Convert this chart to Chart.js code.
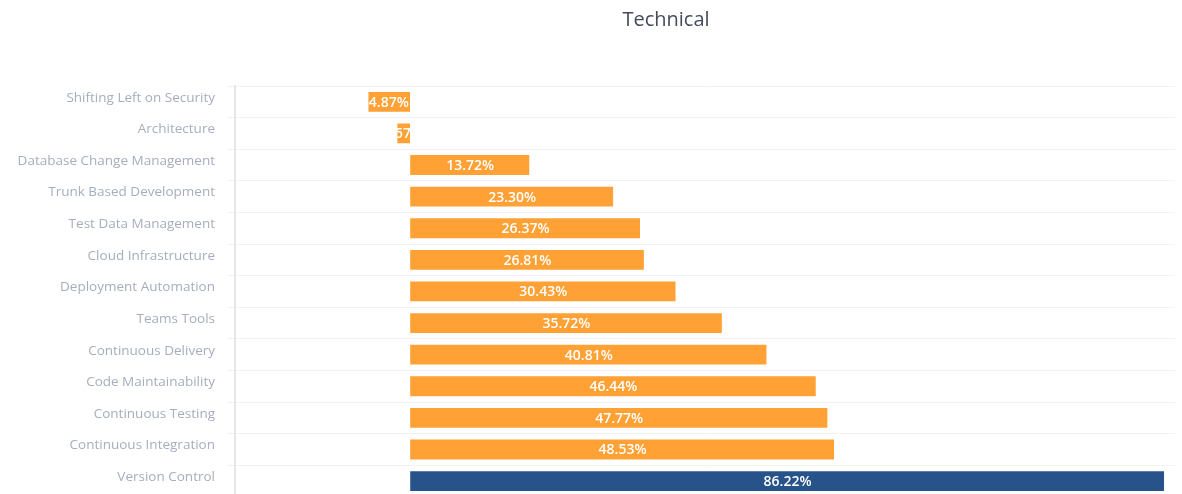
<!DOCTYPE html>
<html>
<head>
<meta charset="utf-8">
<script src="https://cdn.jsdelivr.net/npm/chart.js@4"></script>
<style>
  html, body { margin: 0; padding: 0; background: #fff; overflow: hidden; }
  #wrap { width: 1182px; height: 517px; position: relative; }
</style>
</head>
<body>
<div id="wrap"><canvas id="technicalChart"></canvas></div>
<script>
const chartTitle = 'Technical'
const categories = [
    'Shifting Left on Security', 'Architecture', 'Database Change Management',
    'Trunk Based Development', 'Test Data Management', 'Cloud Infrastructure',
    'Deployment Automation', 'Teams Tools', 'Continuous Delivery',
    'Code Maintainability', 'Continuous Testing', 'Continuous Integration',
    'Version Control'
]
// first two bars are drawn to the left of zero
const values = [-4.87, -1.57, 13.72, 23.30, 26.37, 26.81, 30.43, 35.72, 40.81, 46.44, 47.77, 48.53, 86.22]
const barColors = values.map((v, i) => i === values.length - 1 ? '#27538a' : '#ffa134')

// draws the % label in the middle of each bar, clipped to the bar
const barLabels = {
    id: 'barLabels',
    afterDatasetsDraw(chart) {
        let ctx = chart.ctx
        let meta = chart.getDatasetMeta(0)
        meta.data.forEach((bar, i) => {
            let left = Math.min(bar.x, bar.base)
            let w = Math.abs(bar.x - bar.base)
            let h = bar.height
            ctx.save()
            ctx.beginPath()
            ctx.rect(left, bar.y - h / 2, w, h)
            ctx.clip()
            ctx.fillStyle = '#ffffff'
            ctx.font = '600 14px "Open Sans", sans-serif'
            ctx.textAlign = 'center'
            ctx.textBaseline = 'middle'
            ctx.fillText(Math.abs(values[i]).toFixed(2) + '%', left + w / 2, bar.y + 1)
            ctx.restore()
        })
    }
}

// the title in the original sits right of the canvas centre
const offsetTitle = {
    id: 'offsetTitle',
    afterDraw(chart) {
        let ctx = chart.ctx
        ctx.save()
        ctx.fillStyle = '#454c59'
        ctx.font = '20px "Open Sans", sans-serif'
        ctx.textAlign = 'center'
        ctx.textBaseline = 'middle'
        ctx.fillText(chartTitle, 666, 20)
        ctx.restore()
    }
}

let ctx = document.getElementById('technicalChart').getContext('2d')
new Chart(ctx, {
    type: 'bar',
    data: {
        labels: categories,
        datasets: [{
            data: values,
            backgroundColor: barColors,
            borderColor: 'rgba(255,255,255,0.35)',
            borderWidth: 1,
            barPercentage: 0.92,
            categoryPercentage: 0.75
        }]
    },
    options: {
        indexAxis: 'y',
        responsive: true,
        maintainAspectRatio: false,
        animation: false,
        layout: { padding: { left: 0, right: 7, top: 86, bottom: 1 } },
        plugins: {
            legend: { display: false },
            tooltip: { enabled: false },
            title: { display: false }
        },
        scales: {
            x: {
                min: -20,
                max: 87.36,
                display: false,
                grid: { display: false }
            },
            y: {
                afterFit(scale) { scale.width = 235 },
                border: { color: '#e6e6e6', width: 2 },
                grid: { color: '#f2f2f2', offset: true, tickLength: 8 },
                ticks: {
                    color: '#a6aebd',
                    padding: 12,
                    labelOffset: -4,
                    font: { family: '"Open Sans", sans-serif', size: 13.5 }
                }
            }
        }
    },
    plugins: [barLabels, offsetTitle]
})
</script>
</body>
</html>
